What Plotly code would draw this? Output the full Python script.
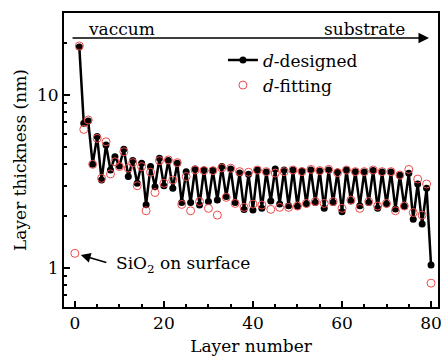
import plotly.graph_objects as go

layers_designed = list(range(1, 81))
d_designed = [
    19.0, 6.9, 7.1, 4.0, 5.77, 3.24, 5.16, 3.70, 4.42, 3.9,
    4.87, 3.39, 4.2, 3.1, 4.05, 2.33, 3.87, 2.96, 4.32, 3.0,
    4.2, 2.90, 4.05, 2.40, 3.62, 2.40, 3.75, 2.32, 3.70, 2.43,
    3.67, 2.48, 3.87, 2.60, 3.75, 2.40, 3.55, 2.19, 3.50, 2.17,
    3.70, 2.22, 3.60, 2.45, 3.75, 2.35, 3.70, 2.30, 3.70, 2.28,
    3.65, 2.35, 3.70, 2.40, 3.65, 2.22, 3.70, 2.40, 3.60, 2.12,
    3.70, 2.45, 3.62, 2.30, 3.60, 2.40, 3.68, 2.22, 3.60, 2.35,
    3.60, 2.20, 3.45, 2.28, 3.54, 1.92, 3.07, 1.80, 2.90, 1.045,
]

layers_fitting = list(range(0, 81))
d_fitting = [
    1.22,
    19.3, 6.35, 7.2, 3.99, 5.64, 3.31, 5.39, 3.51, 4.13, 3.87,
    4.72, 3.79, 4.08, 3.00, 3.87, 2.15, 3.59, 2.74, 4.19, 3.10,
    4.23, 3.24, 4.08, 2.34, 3.39, 2.15, 3.70, 2.43, 3.67, 2.22,
    3.67, 2.03, 3.80, 2.57, 3.79, 2.37, 3.62, 2.25, 3.59, 2.35,
    3.70, 2.32, 3.62, 2.19, 3.55, 2.25, 3.62, 2.25, 3.70, 2.29,
    3.62, 2.37, 3.73, 2.43, 3.67, 2.37, 3.73, 2.43, 3.57, 2.22,
    3.70, 2.48, 3.62, 2.22, 3.62, 2.43, 3.70, 2.29, 3.62, 2.37,
    3.62, 2.15, 3.46, 2.29, 3.73, 2.10, 3.28, 2.03, 3.07, 0.82,
]

FONT = "DejaVu Serif"
RED = "rgb(238,75,75)"

fig = go.Figure()
fig.add_trace(go.Scatter(
    x=layers_designed, y=d_designed, mode="lines+markers",
    name="<i>d</i>-designed",
    line=dict(color="black", width=2.5),
    marker=dict(color="black", size=7, symbol="circle"),
))
fig.add_trace(go.Scatter(
    x=layers_fitting, y=d_fitting, mode="markers",
    name="<i>d</i>-fitting",
    marker=dict(color=RED, size=8, symbol="circle-open",
                line=dict(color=RED, width=1)),
))

axis_common = dict(
    showline=True, linecolor="black", linewidth=2, mirror=True,
    ticks="inside", tickcolor="black", tickwidth=1.5,
    showgrid=False, zeroline=False,
    tickfont=dict(family=FONT, size=17, color="black"),
)

fig.update_xaxes(
    range=[-2.44, 81.56], tickvals=[0, 20, 40, 60, 80], ticklen=6,
    minor=dict(dtick=5, tick0=0, ticks="inside", ticklen=3, tickcolor="black", tickwidth=1.5),
    title=dict(text="Layer number", font=dict(family=FONT, size=17, color="black"), standoff=8),
    **axis_common,
)
fig.update_yaxes(
    type="log", range=[-0.224, 1.476], tickvals=[1, 10], ticktext=["1", "10"], ticklen=6,
    minor=dict(tickvals=[0.6, 0.7, 0.8, 0.9, 2, 3, 4, 5, 6, 7, 8, 9, 20, 30],
               ticks="inside", ticklen=3, tickcolor="black", tickwidth=1.5),
    title=dict(text="Layer thickness (nm)", font=dict(family=FONT, size=17, color="black"), standoff=6),
    **axis_common,
)

annotations = [
    dict(text="vaccum", x=0.1526, y=0.9456, xref="paper", yref="paper",
         xanchor="center", yanchor="middle", showarrow=False,
         font=dict(family=FONT, size=17, color="black")),
    dict(text="substrate", x=0.804, y=0.9456, xref="paper", yref="paper",
         xanchor="center", yanchor="middle", showarrow=False,
         font=dict(family=FONT, size=17, color="black")),
    dict(text="", x=0.976, y=0.915, xref="paper", yref="paper",
         ax=-358, ay=0, showarrow=True, arrowhead=2, arrowsize=1.4,
         arrowwidth=1.5, arrowcolor="black", standoff=0),
    dict(text="SiO<sub>2</sub> on surface", x=0.135, y=0.143, xref="paper", yref="paper",
         xanchor="left", yanchor="middle", showarrow=False,
         font=dict(family=FONT, size=17, color="black")),
    dict(text="", x=0.045, y=0.177, xref="paper", yref="paper",
         ax=27, ay=8, showarrow=True, arrowhead=2, arrowsize=1.3,
         arrowwidth=1.5, arrowcolor="black", standoff=0),
]

fig.update_layout(
    width=444, height=356,
    margin=dict(l=64, r=2, t=13, b=49),
    paper_bgcolor="white", plot_bgcolor="white",
    font=dict(family=FONT, size=17, color="black"),
    showlegend=True,
    legend=dict(x=0.425, y=0.90, xanchor="left", yanchor="top",
                bgcolor="rgba(0,0,0,0)", borderwidth=0,
                font=dict(family=FONT, size=17, color="black"),
                tracegroupgap=0),
    annotations=annotations,
)

fig.write_html("out.html")
